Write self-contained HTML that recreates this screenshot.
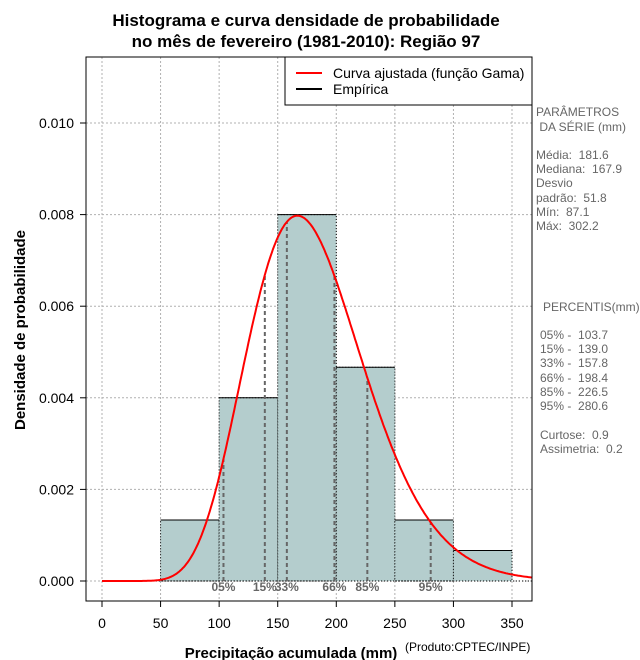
<!DOCTYPE html>
<html><head><meta charset="utf-8"><style>
body{margin:0;background:#fff;width:640px;height:660px;overflow:hidden}
svg{display:block;font-family:"Liberation Sans",Arial,sans-serif}
.pre text{white-space:pre}
</style></head><body>
<svg id="chart" width="640" height="660"></svg>
<script>
const binEdges=[50,100,150,200,250,300,350];
const binDensity=[0.001333,0.004,0.008,0.004667,0.001333,0.000667];
const seriesMean=181.6, seriesSd=51.8;
const pctLabels=["05%","15%","33%","66%","85%","95%"];
const pctValues=[103.7,139.0,157.8,198.4,226.5,280.6];
const xTicks=[0,50,100,150,200,250,300,350];
const yTicks=[0,0.002,0.004,0.006,0.008,0.010];
const NS="http://www.w3.org/2000/svg";
const svg=document.getElementById('chart');
const L=86,R=532,T=57,B=601;
const X=v=>102+v*(410/350);
const Y=v=>581-v*(458/0.010);
function el(tag,attrs,parent){const e=document.createElementNS(NS,tag);for(const k in attrs)e.setAttribute(k,attrs[k]);(parent||svg).appendChild(e);return e;}
function txt(s,attrs,parent){const e=el('text',attrs,parent);e.textContent=s;return e;}
function lgamma(z){const g=7,c=[0.99999999999980993,676.5203681218851,-1259.1392167224028,771.32342877765313,-176.61503916999185,12.507343278686905,-0.13857109526572012,9.9843695780195716e-6,1.5056327351493116e-7];z-=1;let x=c[0];for(let i=1;i<g+2;i++)x+=c[i]/(z+i);const t=z+g+0.5;return 0.5*Math.log(2*Math.PI)+(z+0.5)*Math.log(t)-t+Math.log(x);}
const shape=(seriesMean/seriesSd)**2, scale=seriesSd*seriesSd/seriesMean;
function pdf(x){if(x<=0)return 0;return Math.exp((shape-1)*Math.log(x)-x/scale-lgamma(shape)-shape*Math.log(scale));}
const grid=el('g',{stroke:'#b0b0b0','stroke-dasharray':'2,2','stroke-width':1});

xTicks.forEach(v=>el('line',{x1:X(v),x2:X(v),y1:T,y2:B},grid));
yTicks.forEach(v=>el('line',{x1:L,x2:R,y1:Y(v),y2:Y(v)},grid));
for(let i=0;i<binDensity.length;i++){
 const r=el('rect',{x:X(binEdges[i]),y:Y(binDensity[i]),width:X(binEdges[i+1])-X(binEdges[i]),height:Y(0)-Y(binDensity[i]),fill:'#b4cdcd',stroke:'#000','stroke-dasharray':'1,2','stroke-width':1});
 
 
 el('line',{x1:X(binEdges[i]),x2:X(binEdges[i+1]),y1:Y(binDensity[i]),y2:Y(binDensity[i]),stroke:'#000','stroke-width':1});
}
el('line',{x1:X(0),x2:R,y1:Y(0),y2:Y(0),stroke:'#000','stroke-dasharray':'1,2'});
pctValues.forEach((v,i)=>{
 const ln=el('line',{x1:X(v),x2:X(v),y1:Y(0),y2:Y(pdf(v)),stroke:'#666','stroke-width':2,'stroke-dasharray':'4,3'});
 
 
 const t=txt(pctLabels[i],{x:X(v),y:591,'text-anchor':'middle','font-size':12,'font-weight':'bold',fill:'#666'});
 
 
});
let d='';for(let x=0;x<=368;x+=1){const px=Math.min(X(x),R);d+=(x?'L':'M')+px.toFixed(1)+','+Y(pdf(x)).toFixed(1);}
const cp=el('path',{d:d,fill:'none',stroke:'#f00','stroke-width':2});


const fr=el('rect',{x:L,y:T,width:R-L,height:B-T,fill:'none',stroke:'#000'});

xTicks.forEach(v=>{el('line',{x1:X(v),x2:X(v),y1:B,y2:B+6,stroke:'#000'});const t=txt(String(v),{x:X(v),y:628,'text-anchor':'middle','font-size':14});});
yTicks.forEach(v=>{el('line',{x1:L-6,x2:L,y1:Y(v),y2:Y(v),stroke:'#000'});const t=txt(v.toFixed(3),{x:74,y:Y(v)+5,'text-anchor':'end','font-size':14});});
</script>
<svg style="position:absolute;left:0;top:0" width="640" height="660">
<text x="306" y="26" text-anchor="middle" font-size="17" font-weight="bold" font-family="Liberation Sans,sans-serif">Histograma e curva densidade de probabilidade</text>
<text x="306" y="47" text-anchor="middle" font-size="17" font-weight="bold" font-family="Liberation Sans,sans-serif">no mês de fevereiro (1981-2010): Região 97</text>
<text x="291" y="658" text-anchor="middle" font-size="15" font-weight="bold" font-family="Liberation Sans,sans-serif">Precipitação acumulada (mm)</text>
<text x="405" y="651" font-size="12" font-family="Liberation Sans,sans-serif">(Produto:CPTEC/INPE)</text>
<text transform="translate(25,330) rotate(-90)" text-anchor="middle" font-size="15" font-weight="bold" font-family="Liberation Sans,sans-serif">Densidade de probabilidade</text>
<g font-family="Liberation Sans,sans-serif" font-size="14">
<rect x="285" y="57" width="247" height="48" fill="#fff" stroke="#000"/>
<line x1="296" x2="322" y1="73" y2="73" stroke="#f00" stroke-width="2"/>
<text x="333" y="78">Curva ajustada (função Gama)</text>
<line x1="296" x2="322" y1="89" y2="89" stroke="#000" stroke-width="2"/>
<text x="333" y="94">Empírica</text>
</g>
<g class="pre" font-family="Liberation Sans,sans-serif" font-size="12" fill="#666">
<text x="536" y="116">PARÂMETROS</text>
<text x="536" y="131"> DA SÉRIE (mm)</text>
<text x="536" y="159">Média:  181.6</text>
<text x="536" y="173">Mediana:  167.9</text>
<text x="536" y="187">Desvio</text>
<text x="536" y="202">padrão:  51.8</text>
<text x="536" y="216">Mín:  87.1</text>
<text x="536" y="230">Máx:  302.2</text>
<text x="543" y="311">PERCENTIS(mm)</text>
<text x="540" y="339">05% -  103.7</text>
<text x="540" y="353">15% -  139.0</text>
<text x="540" y="367">33% -  157.8</text>
<text x="540" y="382">66% -  198.4</text>
<text x="540" y="396">85% -  226.5</text>
<text x="540" y="410">95% -  280.6</text>
<text x="540" y="439">Curtose:  0.9</text>
<text x="540" y="453">Assimetria:  0.2</text>
</g>
</svg>
</body></html>
